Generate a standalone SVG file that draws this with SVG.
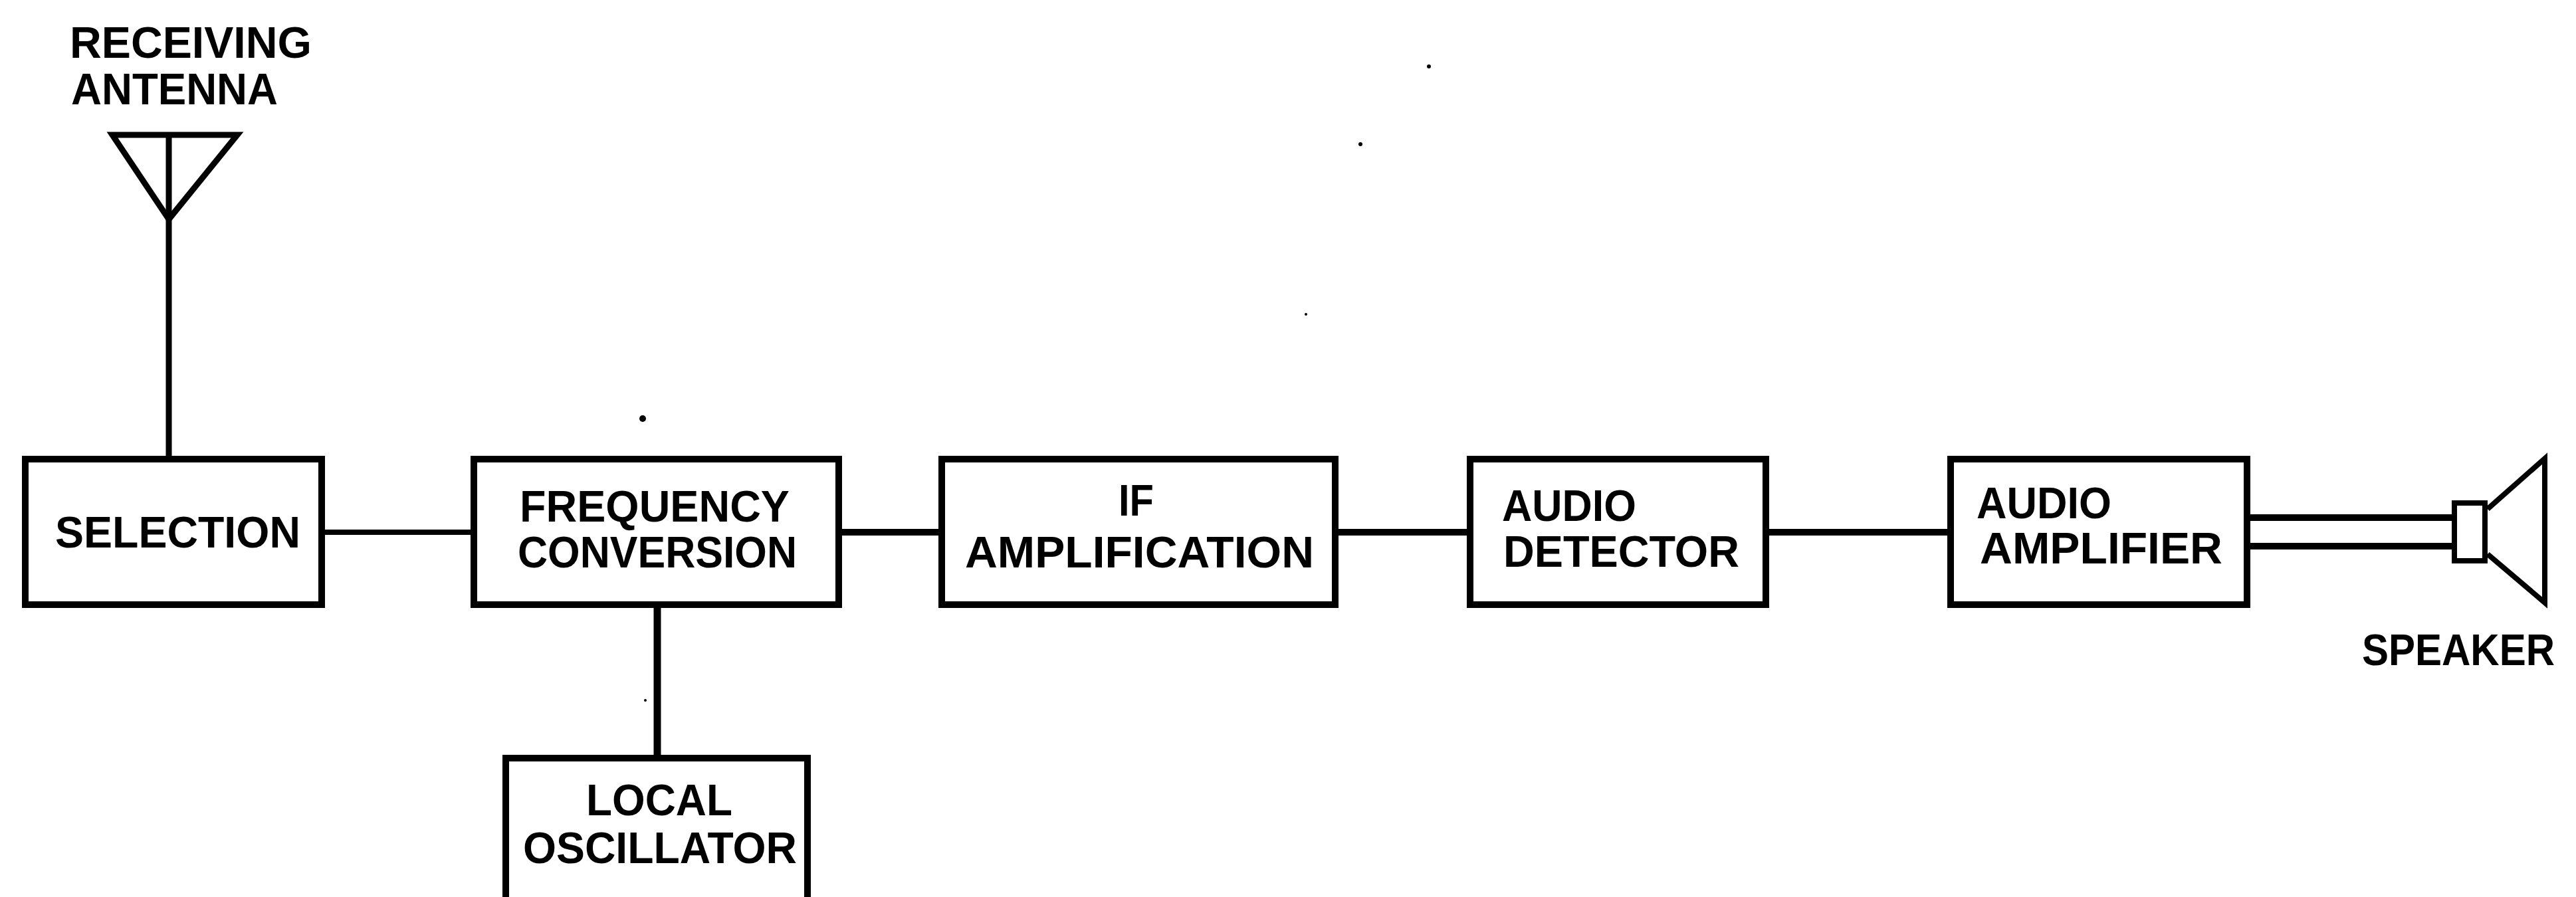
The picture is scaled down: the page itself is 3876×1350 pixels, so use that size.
<svg xmlns="http://www.w3.org/2000/svg" width="3876" height="1350" viewBox="0 0 3876 1350">
<style>
.box{fill:#fff;stroke:#000;stroke-width:10}
.ln{fill:none;stroke:#000;stroke-width:10;stroke-linecap:butt;stroke-linejoin:miter}
.t{font-family:"Liberation Sans",Arial,sans-serif;font-weight:bold;font-size:67px;fill:#000}
.speck{fill:#000}
</style>
<rect width="3876" height="1350" fill="#fff"/>
<g id="connectors">
<line class="ln" x1="254" y1="203" x2="254" y2="687" style="stroke-width:9"/>
<line class="ln" x1="489" y1="801" x2="708" y2="801" style="stroke-width:8"/>
<line class="ln" x1="1267" y1="801" x2="1412" y2="801"/>
<line class="ln" x1="2014" y1="801" x2="2207" y2="801"/>
<line class="ln" x1="2662" y1="801" x2="2930" y2="801"/>
<line class="ln" x1="989" y1="915" x2="989" y2="1137" style="stroke-width:11"/>
<line class="ln" x1="3386" y1="779" x2="3689" y2="779"/>
<line class="ln" x1="3386" y1="822" x2="3689" y2="822"/>
</g>
<g id="antenna">
<polygon class="ln" points="169,203 357,203 254,330" style="stroke-width:9"/>
<text class="t" x="105" y="87" textLength="364" lengthAdjust="spacingAndGlyphs">RECEIVING</text>
<text class="t" x="107" y="157" textLength="311" lengthAdjust="spacingAndGlyphs">ANTENNA</text>
</g>
<g id="selection">
<rect class="box" x="38" y="691" width="446" height="219"/>
<text class="t" x="83" y="824" textLength="369" lengthAdjust="spacingAndGlyphs">SELECTION</text>
</g>
<g id="frequency-conversion">
<rect class="box" x="713" y="691" width="549" height="219"/>
<text class="t" x="782" y="785" textLength="406" lengthAdjust="spacingAndGlyphs">FREQUENCY</text>
<text class="t" x="779" y="854" textLength="420" lengthAdjust="spacingAndGlyphs">CONVERSION</text>
</g>
<g id="local-oscillator">
<rect class="box" x="761" y="1141" width="454" height="260"/>
<text class="t" x="882" y="1227" textLength="220" lengthAdjust="spacingAndGlyphs">LOCAL</text>
<text class="t" x="787" y="1299" textLength="412" lengthAdjust="spacingAndGlyphs">OSCILLATOR</text>
</g>
<g id="if-amplification">
<rect class="box" x="1417" y="691" width="592" height="219"/>
<text class="t" x="1683" y="776" textLength="53" lengthAdjust="spacingAndGlyphs">IF</text>
<text class="t" x="1452" y="854" textLength="525" lengthAdjust="spacingAndGlyphs">AMPLIFICATION</text>
</g>
<g id="audio-detector">
<rect class="box" x="2212" y="691" width="445" height="219"/>
<text class="t" x="2260" y="784" textLength="202" lengthAdjust="spacingAndGlyphs">AUDIO</text>
<text class="t" x="2262" y="853" textLength="355" lengthAdjust="spacingAndGlyphs">DETECTOR</text>
</g>
<g id="audio-amplifier">
<rect class="box" x="2935" y="691" width="446" height="219"/>
<text class="t" x="2974" y="780" textLength="203" lengthAdjust="spacingAndGlyphs">AUDIO</text>
<text class="t" x="2979" y="848" textLength="365" lengthAdjust="spacingAndGlyphs">AMPLIFIER</text>
</g>
<g id="speaker">
<rect class="box" x="3693" y="757" width="46" height="87" style="stroke-width:8"/>
<polyline class="ln" points="3743,766 3829,690 3829,907 3743,834" style="stroke-width:8"/>
<text class="t" x="3554" y="1001" textLength="290" lengthAdjust="spacingAndGlyphs">SPEAKER</text>
</g>
<g id="specks">
<circle class="speck" cx="967" cy="630" r="5"/>
<circle class="speck" cx="2150" cy="100" r="3"/>
<circle class="speck" cx="2047" cy="217" r="3"/>
<circle class="speck" cx="1965" cy="473" r="2"/>
<circle class="speck" cx="971" cy="1054" r="2"/>
</g>
</svg>
